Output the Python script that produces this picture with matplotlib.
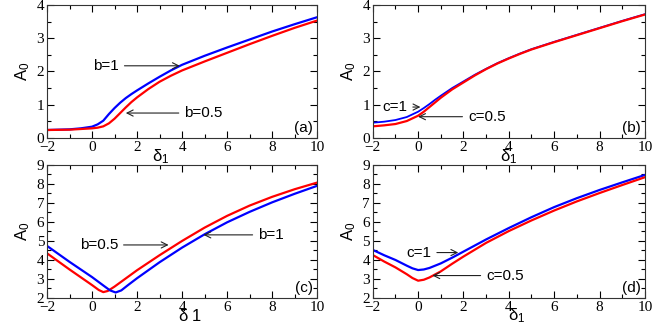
import matplotlib
matplotlib.use("Agg")
import matplotlib.pyplot as plt
from matplotlib.ticker import MultipleLocator

plt.rcParams["font.family"] = "serif"
plt.rcParams["font.serif"] = ["Liberation Serif", "DejaVu Serif"]
plt.rcParams["mathtext.fontset"] = "custom"
plt.rcParams["mathtext.rm"] = "Liberation Sans"
plt.rcParams["mathtext.it"] = "Liberation Sans"
plt.rcParams["mathtext.sf"] = "Liberation Sans"
plt.rcParams["mathtext.bf"] = "Liberation Sans"

# (a) A0 vs delta1 for b=1 and b=0.5
xa = [-2, -1, -0.5, 0, 0.25, 0.5, 0.75, 1.0, 1.25, 1.5, 1.75, 2, 2.5, 3, 3.5, 4, 5, 6, 7, 8, 9, 10]
ya_b1 = [0.24, 0.26, 0.29, 0.34, 0.41, 0.52, 0.72, 0.9, 1.06, 1.2, 1.32, 1.43, 1.64, 1.84, 2.03, 2.2,
         2.47, 2.72, 2.96, 3.2, 3.42, 3.63]
ya_b05 = [0.24, 0.25, 0.27, 0.29, 0.31, 0.35, 0.44, 0.58, 0.75, 0.92, 1.08, 1.22, 1.47, 1.69, 1.87, 2.03,
          2.3, 2.56, 2.82, 3.07, 3.31, 3.53]

# (b) A0 vs delta1 for c=1 and c=0.5
xb = [-2, -1.5, -1, -0.5, 0, 0.25, 0.5, 0.75, 1, 1.5, 2, 2.5, 3, 3.5, 4, 4.5, 5, 6, 7, 8, 9, 10]
yb_c1 = [0.46, 0.49, 0.54, 0.63, 0.79, 0.9, 1.02, 1.15, 1.27, 1.5, 1.7, 1.9, 2.08, 2.25, 2.4, 2.54,
         2.67, 2.89, 3.1, 3.31, 3.52, 3.72]
yb_c05 = [0.35, 0.38, 0.42, 0.51, 0.67, 0.79, 0.93, 1.07, 1.21, 1.46, 1.67, 1.88, 2.07, 2.24, 2.39, 2.53,
          2.66, 2.88, 3.09, 3.3, 3.51, 3.71]

# (c) A0 vs delta1 for b=0.5 and b=1
xc_b05 = [-2, -1, 0, 0.3, 0.5, 0.7, 1, 1.5, 2, 3, 4, 5, 6, 7, 8, 9, 10]
yc_b05 = [4.35, 3.5, 2.68, 2.42, 2.31, 2.37, 2.6, 3.03, 3.46, 4.25, 5.0, 5.7, 6.32, 6.86, 7.32, 7.72, 8.07]
xc_b1 = [-2, -1, 0, 0.5, 0.8, 1.05, 1.3, 1.6, 2, 3, 4, 5, 6, 7, 8, 9, 10]
yc_b1 = [4.74, 3.9, 3.1, 2.66, 2.4, 2.29, 2.4, 2.68, 3.04, 3.88, 4.65, 5.35, 5.98, 6.53, 7.03, 7.48, 7.9]

# (d) A0 vs delta1 for c=1 and c=0.5
xd = [-2, -1.5, -1, -0.5, -0.25, 0, 0.25, 0.5, 1, 1.5, 2, 3, 4, 5, 6, 7, 8, 9, 10]
yd_c1 = [4.53, 4.25, 4.0, 3.7, 3.56, 3.47, 3.5, 3.58, 3.82, 4.12, 4.44, 5.08, 5.68, 6.25, 6.78, 7.25,
         7.68, 8.08, 8.47]
yd_c05 = [4.26, 3.92, 3.61, 3.25, 3.05, 2.91, 2.96, 3.08, 3.4, 3.8, 4.18, 4.9, 5.52, 6.08, 6.6, 7.08,
          7.52, 7.94, 8.35]

fig = plt.figure(figsize=(6.54, 3.27), dpi=100)
ax_a = fig.add_axes([0.0719, 0.578, 0.413, 0.407])
ax_b = fig.add_axes([0.570, 0.578, 0.416, 0.407])
ax_c = fig.add_axes([0.0719, 0.0887, 0.413, 0.407])
ax_d = fig.add_axes([0.570, 0.0887, 0.416, 0.407])

sans = "Liberation Sans"
lw = 1.6
fs = 11
arrow = dict(arrowstyle="->", color="#222222", lw=0.8, shrinkA=2, shrinkB=0)


def style(ax, ylim, xlabel, tag, label_xy):
    ax.set_xlim(-2, 10)
    ax.set_ylim(*ylim)
    ax.xaxis.set_major_locator(MultipleLocator(2))
    ax.xaxis.set_minor_locator(MultipleLocator(1))
    ax.yaxis.set_major_locator(MultipleLocator(1))
    ax.yaxis.set_minor_locator(MultipleLocator(0.5))
    ax.tick_params(which="both", direction="in", top=True, right=True, pad=2, labelsize=fs)
    ax.tick_params(which="major", length=5, width=0.8)
    ax.tick_params(which="minor", length=3, width=0.8)
    for sp in ax.spines.values():
        sp.set_linewidth(0.8)
        sp.set_color("#333333")
    ax.set_xlabel(xlabel, fontsize=12)
    ax.xaxis.set_label_coords(*label_xy)
    ax.set_ylabel(r"$A_0$", fontsize=12, labelpad=3)
    ax.text(0.985, 0.025, tag, transform=ax.transAxes, ha="right", va="bottom",
            fontsize=fs, family=sans)


# (a)
ax_a.plot(xa, ya_b1, color="blue", lw=lw)
ax_a.plot(xa, ya_b05, color="red", lw=lw)
style(ax_a, (0, 4), r"$\delta_1$", "(a)", (0.42, -0.07))
ax_a.annotate("b=1", xy=(3.9, 2.17), xytext=(0.05, 2.17), fontsize=fs, family=sans, va="center", arrowprops=arrow)
ax_a.annotate("b=0.5", xy=(1.5, 0.75), xytext=(4.1, 0.75), fontsize=fs, family=sans, va="center", arrowprops=arrow)

# (b)
ax_b.plot(xb, yb_c1, color="blue", lw=1.3)
ax_b.plot(xb, yb_c05, color="red", lw=lw)
style(ax_b, (0, 4), r"$\delta_1$", "(b)", (0.5, -0.07))
ax_b.annotate("c=1", xy=(0.1, 0.93), xytext=(-1.58, 0.93), fontsize=fs, family=sans, va="center", arrowprops=arrow)
ax_b.annotate("c=0.5", xy=(0.0, 0.64), xytext=(2.2, 0.64), fontsize=fs, family=sans, va="center", arrowprops=arrow)

# (c)
ax_c.plot(xc_b05, yc_b05, color="red", lw=lw)
ax_c.plot(xc_b1, yc_b1, color="blue", lw=lw)
style(ax_c, (2, 9), r"$\delta\ 1$", "(c)", (0.53, -0.08))
ax_c.annotate("b=0.5", xy=(3.4, 4.79), xytext=(-0.55, 4.79), fontsize=fs, family=sans, va="center", arrowprops=arrow)
ax_c.annotate("b=1", xy=(4.95, 5.32), xytext=(7.38, 5.32), fontsize=fs, family=sans, va="center", arrowprops=arrow)

# (d)
ax_d.plot(xd, yd_c1, color="blue", lw=lw)
ax_d.plot(xd, yd_c05, color="red", lw=lw)
style(ax_d, (2, 9), r"$\delta_1$", "(d)", (0.53, -0.06))
ax_d.annotate("c=1", xy=(1.77, 4.39), xytext=(-0.52, 4.39), fontsize=fs, family=sans, va="center", arrowprops=arrow)
ax_d.annotate("c=0.5", xy=(0.63, 3.18), xytext=(3.0, 3.18), fontsize=fs, family=sans, va="center", arrowprops=arrow)

fig.savefig("out.png", dpi=100)
